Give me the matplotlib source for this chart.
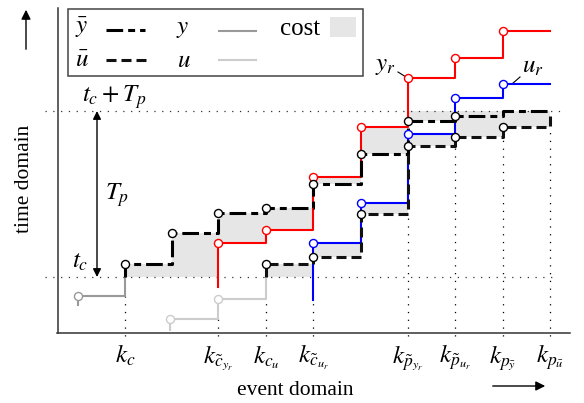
import matplotlib
matplotlib.use('Agg')
import matplotlib.pyplot as plt
from matplotlib.patches import Rectangle

plt.rcParams['font.family'] = ['Liberation Serif', 'DejaVu Serif']
plt.rcParams['mathtext.fontset'] = 'stix'
plt.rcParams['lines.scale_dashes'] = False

# time levels measured upward from the event axis, events along x
t_c = 56
t_cTp = 222

ybar_k = [125, 172, 218, 266, 313, 361, 408, 455, 503, 550]
ybar_t = [69, 100, 120, 125, 149, 179, 212, 217, 222]
ubar_k = [266, 313, 361, 408, 455, 503, 550]
ubar_t = [69, 76, 119, 187, 196, 206]
yr_k = [218, 266, 313, 361, 408, 455, 503, 550]
yr_t = [90, 103, 156, 206, 255, 275, 302]
yr_start = 46
ur_k = [313, 361, 408, 455, 503, 550]
ur_t = [90, 130, 199, 235, 249]
ur_start = 33
y_k = [78, 125]
y_t = [37]
y_start = 28
u_k = [170, 218, 266]
u_t = [14, 34]
u_start = 3

k_pos = [125, 218, 266, 313, 408, 455, 503, 550]
k_labels = [r'$k_c$', r'$k_{\tilde{c}_{y_r}}$', r'$k_{c_u}$', r'$k_{\tilde{c}_{u_r}}$',
            r'$k_{\tilde{p}_{y_r}}$', r'$k_{\tilde{p}_{u_r}}$',
            r'$k_{p_{\bar{y}}}$', r'$k_{p_{\bar{u}}}$']
k_top = [37, 14, 34, 33, 119, 190, 203, 206]

RED = '#ff0000'
BLUE = '#0000ff'
GRAY = '#999999'
LIGHT = '#cccccc'
FILL = '#e6e6e6'
DASHDOT = (0, (12, 3.6, 5, 3.6))
DASHED = (0, (7.2, 3.6))
DOTTED = (0, (0.9, 4.7))


def steps(ks, ts, start=None, end=None):
    xs, ys = [], []
    if start is not None:
        xs.append(ks[0])
        ys.append(start)
    for i, t in enumerate(ts):
        xs += [ks[i], ks[i + 1]]
        ys += [t, t]
    if end is not None:
        xs.append(ks[-1])
        ys.append(end)
    return xs, ys


def ref_level(k, rk, rt):
    for i, t in enumerate(rt):
        if rk[i] <= k < rk[i + 1]:
            return t
    return t_c


def circles(ks, ts, color, z=6):
    ax.plot(ks[:len(ts)], ts, 'o', ms=5.8, mfc='white', mec=color, mew=1.0, zorder=z)


fig = plt.figure(figsize=(5.84, 4.03), dpi=100)
ax = fig.add_axes([0, 0, 1, 1])
ax.set_xlim(0, 584)
ax.set_ylim(-70, 333)
ax.axis('off')

# cost area between prediction and reference, cut at t_c + T_p
for pk, pt, rk, rt in [(ybar_k, ybar_t, yr_k, yr_t), (ubar_k, ubar_t, ur_k, ur_t)]:
    for i, t in enumerate(pt):
        r = min(ref_level(pk[i], rk, rt), t_cTp)
        ax.fill_between([pk[i], pk[i + 1]], [t, t], [r, r], color=FILL, lw=0, zorder=1)

# axes
ax.plot([58, 58], [0, 325], color='#333333', lw=1.1, zorder=2)
ax.plot([57, 570], [0, 0], color='#333333', lw=1.1, zorder=2)
ax.plot([45, 557], [t_c, t_c], color='#333333', lw=0.9, ls=DOTTED, zorder=2)
ax.plot([45, 560], [t_cTp, t_cTp], color='#333333', lw=0.9, ls=DOTTED, zorder=2)
for k, top in zip(k_pos, k_top):
    ax.plot([k, k], [-3, top], color='black', lw=0.9, ls=DOTTED, zorder=2)

# measured outputs / inputs
ax.plot(*steps(y_k, y_t, y_start, t_c), color=GRAY, lw=1.5, zorder=3)
ax.plot(*steps(u_k, u_t, u_start, t_c), color=LIGHT, lw=1.5, zorder=3)
circles(y_k, y_t, GRAY)
circles(u_k, u_t, LIGHT)

# references
ax.plot(*steps(yr_k, yr_t, yr_start), color=RED, lw=1.5, zorder=4)
ax.plot(*steps(ur_k, ur_t, ur_start), color=BLUE, lw=1.5, zorder=4)

# predictions
ax.plot(*steps(ybar_k, ybar_t, t_c), color='black', lw=2.2, ls=DASHDOT, zorder=5)
ax.plot(*steps(ubar_k, ubar_t, t_c, t_cTp), color='#111111', lw=2.2, ls=DASHED, zorder=5)

circles(yr_k, yr_t, RED)
circles(ur_k, ur_t, BLUE)
circles(ybar_k, ybar_t[:-1], 'black', 7)
circles(ubar_k, ubar_t, 'black', 7)

# tick labels
for k, lab in zip(k_pos, k_labels):
    ax.text(k, -30, lab, ha='center', va='baseline', fontsize=18)

ax.text(25, 154, 'time domain', rotation=90, ha='center', va='center', fontsize=15.5)
ax.text(295, -62, 'event domain', ha='center', va='baseline', fontsize=15.5)

ax.annotate('', xy=(26, 326), xytext=(26, 281),
            arrowprops=dict(arrowstyle='-|>', color='black', lw=1, mutation_scale=14))
ax.annotate('', xy=(548, -53), xytext=(490, -53),
            arrowprops=dict(arrowstyle='-|>', color='black', lw=1, mutation_scale=14))
ax.annotate('', xy=(97, t_c), xytext=(97, t_cTp),
            arrowprops=dict(arrowstyle='<|-|>', color='black', lw=1, mutation_scale=12,
                            shrinkA=0, shrinkB=0))

ax.text(80, 65, r'$t_c$', ha='center', va='baseline', fontsize=18)
ax.text(114, 231, r'$t_c+T_p$', ha='center', va='baseline', fontsize=18)
ax.text(117, 133, r'$T_p$', ha='center', va='baseline', fontsize=18)
ax.text(385, 263, r'$y_r$', ha='center', va='baseline', fontsize=18)
ax.plot([398, 406], [261, 256], color='black', lw=0.8)
ax.text(533, 260, r'$u_r$', ha='center', va='baseline', fontsize=18)
ax.plot([520, 512], [256, 249], color='black', lw=0.8)

# legend
ax.add_patch(Rectangle((68, 257), 295, 67, fill=False, ec='#444444', lw=1.1, zorder=8))
ax.text(82, 300, r'$\bar{y}$', ha='center', va='baseline', fontsize=18, zorder=9)
ax.plot([106, 145], [303, 303], color='black', lw=2.2, ls=DASHDOT, zorder=9)
ax.text(82, 266, r'$\bar{u}$', ha='center', va='baseline', fontsize=18, zorder=9)
ax.plot([106, 148], [273, 273], color='#111111', lw=2.2, ls=DASHED, zorder=9)
ax.text(183, 300, r'$y$', ha='center', va='baseline', fontsize=18, zorder=9)
ax.plot([219, 256], [302, 302], color=GRAY, lw=1.5, zorder=9)
ax.text(184, 266, r'$u$', ha='center', va='baseline', fontsize=18, zorder=9)
ax.plot([219, 256], [273, 273], color=LIGHT, lw=1.5, zorder=9)
ax.text(300, 298, 'cost', ha='center', va='baseline', fontsize=18, zorder=9)
ax.add_patch(Rectangle((330, 296), 26, 20, color=FILL, lw=0, zorder=9))

fig.savefig('out.png', dpi=100)
